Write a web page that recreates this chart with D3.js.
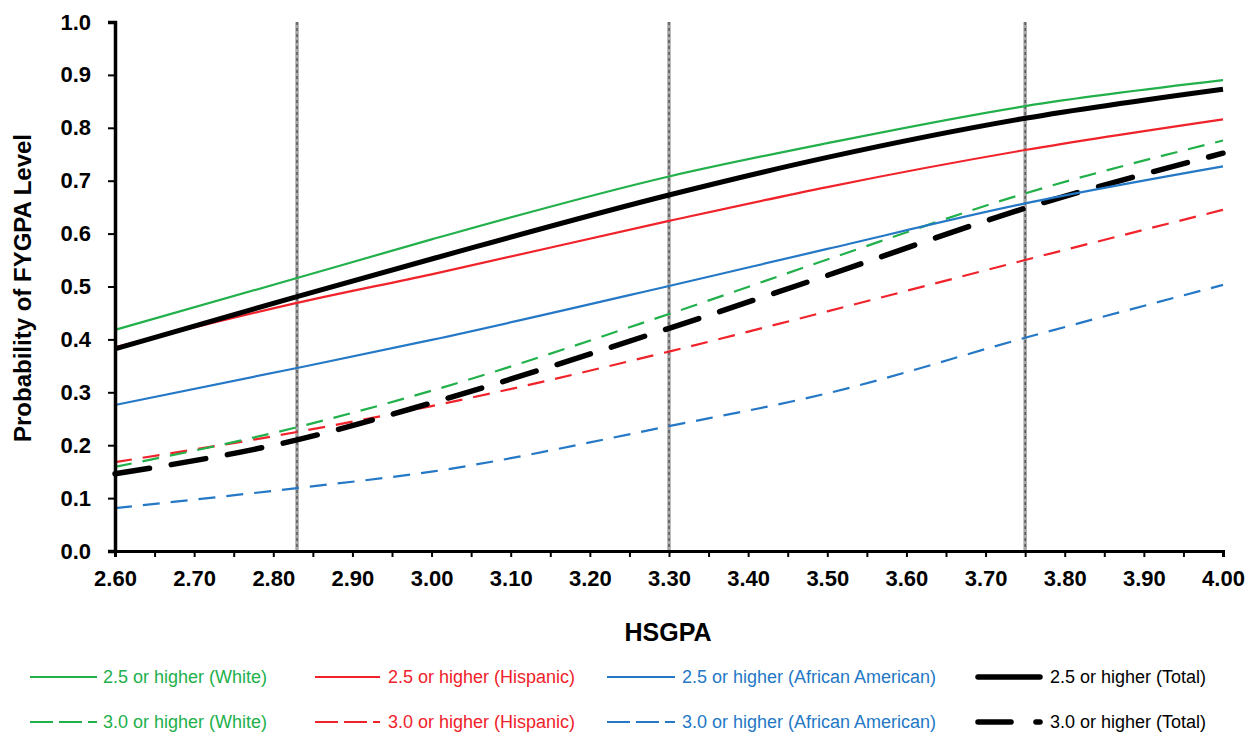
<!DOCTYPE html>
<html>
<head>
<meta charset="utf-8">
<script src="https://cdn.jsdelivr.net/npm/d3@7"></script>
<style>
  html, body { margin: 0; padding: 0; background: #fff; }
  svg { display: block; font-family: "Liberation Sans", Arial, sans-serif; }
</style>
</head>
<body>
<svg id="chart" width="1257" height="734"></svg>
<script>
// ---- data ----
const hsgpa = [2.60, 2.83, 3.00, 3.30, 3.50, 3.75, 4.00];

const white25    = [0.418, 0.516, 0.589, 0.708, 0.771, 0.841, 0.890];
const hispanic25 = [0.385, 0.469, 0.523, 0.624, 0.688, 0.758, 0.816];
const african25  = [0.276, 0.346, 0.399, 0.501, 0.571, 0.657, 0.727];
const total25    = [0.382, 0.481, 0.552, 0.673, 0.744, 0.818, 0.873];
const white30    = [0.159, 0.234, 0.303, 0.448, 0.551, 0.676, 0.776];
const hispanic30 = [0.168, 0.225, 0.274, 0.377, 0.453, 0.550, 0.645];
const african30  = [0.081, 0.119, 0.150, 0.236, 0.298, 0.403, 0.503];
const total30    = [0.146, 0.210, 0.280, 0.421, 0.521, 0.648, 0.752];

const seriesNames = [
  "2.5 or higher (White)", "2.5 or higher (Hispanic)", "2.5 or higher (African American)", "2.5 or higher (Total)",
  "3.0 or higher (White)", "3.0 or higher (Hispanic)", "3.0 or higher (African American)", "3.0 or higher (Total)"
];
const cutLines = [2.83, 3.30, 3.75];
const xTickValues = d3.range(0, 29).map(i => +(2.60 + i * 0.05).toFixed(2));
const xTickLabels = ["2.60","2.70","2.80","2.90","3.00","3.10","3.20","3.30","3.40","3.50","3.60","3.70","3.80","3.90","4.00"];
const yTickValues = [0,0.1,0.2,0.3,0.4,0.5,0.6,0.7,0.8,0.9,1.0];
const yTickLabels = ["0.0","0.1","0.2","0.3","0.4","0.5","0.6","0.7","0.8","0.9","1.0"];

// ---- styles ----
const GREEN = "#22b04b", RED = "#f0222a", BLUE = "#2478c6", BLACK = "#000";
const series = [
  {name: seriesNames[0], vals: white25,    color: GREEN, w: 2.2, dash: null},
  {name: seriesNames[1], vals: hispanic25, color: RED,   w: 2.2, dash: null},
  {name: seriesNames[2], vals: african25,  color: BLUE,  w: 2.2, dash: null},
  {name: seriesNames[3], vals: total25,    color: BLACK, w: 5,   dash: null},
  {name: seriesNames[4], vals: white30,    color: GREEN, w: 2.2, dash: "17,11"},
  {name: seriesNames[5], vals: hispanic30, color: RED,   w: 2.2, dash: "17,11"},
  {name: seriesNames[6], vals: african30,  color: BLUE,  w: 2.2, dash: "17,11"},
  {name: seriesNames[7], vals: total30,    color: BLACK, w: 5.5, dash: "35,22"}
];

const svg = d3.select("#chart");
const x = d3.scaleLinear().domain([2.6, 4.0]).range([115, 1223]);
const y = d3.scaleLinear().domain([0, 1]).range([551, 22]);

// reference vertical lines
const refG = svg.append("g");
cutLines.forEach(c => {
  refG.append("line").attr("x1", x(c)).attr("x2", x(c)).attr("y1", y(1)).attr("y2", y(0))
    .attr("stroke", "#a6a6a6").attr("stroke-width", 3.5);
  refG.append("line").attr("x1", x(c)).attr("x2", x(c)).attr("y1", y(1)).attr("y2", y(0))
    .attr("stroke", "#333").attr("stroke-width", 1).attr("stroke-dasharray", "3,3");
});

// series lines
const line = d3.line().x(d => x(d[0])).y(d => y(d[1])).curve(d3.curveMonotoneX);
const drawOrder = [6, 5, 4, 7, 2, 1, 3, 0];
drawOrder.forEach(i => {
  const s = series[i];
  const p = svg.append("path")
    .datum(hsgpa.map((h, k) => [h, s.vals[k]]))
    .attr("d", line)
    .attr("fill", "none")
    .attr("stroke", s.color)
    .attr("stroke-width", s.w)
    .attr("stroke-linecap", s.color === BLACK && s.dash ? "round" : "butt");
  if (s.dash) p.attr("stroke-dasharray", s.dash);
});

// axes
const xAxis = d3.axisBottom(x).tickValues(xTickValues).tickSize(6).tickPadding(13)
  .tickFormat(v => {
    const idx = xTickLabels.indexOf(v.toFixed(2));
    return (Math.round(v * 100) % 10 === 0 && idx >= 0) ? xTickLabels[idx] : "";
  });
const gx = svg.append("g").attr("transform", `translate(0,${y(0)})`).call(xAxis);
gx.select(".domain").attr("stroke", "#000").attr("stroke-width", 3);
gx.selectAll(".tick line").attr("stroke", "#000").attr("stroke-width", 2);
gx.selectAll("text").attr("font-size", 22).attr("font-weight", "bold").attr("fill", "#000");

const yAxis = d3.axisLeft(y).tickValues(yTickValues).tickSize(7).tickPadding(17)
  .tickFormat((v, i) => yTickLabels[i]);
const gy = svg.append("g").attr("transform", `translate(${x(2.6)},0)`).call(yAxis);
gy.select(".domain").attr("stroke", "#000").attr("stroke-width", 3.5);
gy.selectAll(".tick line").attr("stroke", "#000").attr("stroke-width", 2);
gy.selectAll("text").attr("font-size", 22).attr("font-weight", "bold").attr("fill", "#000");

// axis titles
svg.append("text").attr("x", 668).attr("y", 641).attr("text-anchor", "middle")
  .attr("font-size", 25).attr("font-weight", "bold").text("HSGPA");
svg.append("text").attr("transform", "translate(31,288) rotate(-90)").attr("text-anchor", "middle")
  .attr("font-size", 24).attr("font-weight", "bold").text("Probability of FYGPA Level");

// legend
const legCols = [[30, 97, 103], [315, 380, 388], [607, 675, 682], [978, 1040, 1050]];
const legRows = [677, 722];
const legDash = ["23,6", "23,6", "23,6", "33,25"];
series.forEach((s, i) => {
  const col = legCols[i % 4], ry = legRows[Math.floor(i / 4)];
  const g = svg.append("g");
  const l = g.append("line").attr("x1", col[0]).attr("x2", col[1]).attr("y1", ry).attr("y2", ry)
    .attr("stroke", s.color).attr("stroke-width", s.color === BLACK ? 5.5 : 2.2)
    .attr("stroke-linecap", s.color === BLACK ? "round" : "butt");
  if (s.dash) l.attr("stroke-dasharray", legDash[i % 4]);
  g.append("text").attr("x", col[2]).attr("y", ry).attr("dy", "0.35em")
    .attr("font-size", 18).attr("fill", s.color).text(s.name);
});
</script>
</body>
</html>
